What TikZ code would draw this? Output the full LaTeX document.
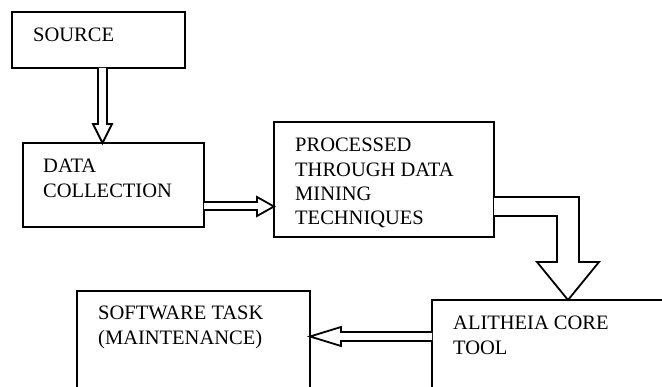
\documentclass[tikz,border=0pt]{standalone}
\usepackage{fontspec}
\setmainfont{Liberation Serif}
\usetikzlibrary{calc}
\tikzset{
  box/.style={draw, line width=1.8pt, rectangle, inner sep=0pt, outer sep=0pt, anchor=north west},
  lbl/.style={anchor=base west, inner sep=0pt, font=\fontsize{20.5}{24.3}\selectfont},
  arr/.style={draw, line width=1.8pt, line join=miter, fill=white}
}
\newcommand\lines[1]{\begin{tabular}[t]{@{}l@{}}#1\end{tabular}}
\begin{document}
\begin{tikzpicture}[x=1pt,y=1pt]
\useasboundingbox (0,0) rectangle (662,-387);
\clip (0,0) rectangle (662,-387);
\node[box, minimum width=173pt, minimum height=56pt] (src) at (12,-12) {};
\node[box, minimum width=181pt, minimum height=84pt] (dc) at (23,-143) {};
\node[box, minimum width=220pt, minimum height=115pt] (proc) at (274,-122) {};
\node[box, minimum width=300pt, minimum height=150pt] (ali) at (432,-300) {};
\node[box, minimum width=233pt, minimum height=150pt] (sw) at (77,-291) {};

\node[lbl] (tsrc) at (33,-42) {SOURCE};
\node[lbl] (tdc) at (43,-173) {\lines{DATA\\COLLECTION}};
\node[lbl] (tproc) at (295,-152) {\lines{PROCESSED\\THROUGH DATA\\MINING\\TECHNIQUES}};
\node[lbl] (tali) at (453,-330) {\lines{ALITHEIA CORE\\TOOL}};
\node[lbl] (tsw) at (98,-320) {\lines{SOFTWARE TASK\\(MAINTENANCE)}};

\draw[arr] let \p1=(src.south), \p2=(dc.north) in
  (98,\y1) -- (98,\y2+19pt) -- (93,\y2+19pt) -- (102.5,\y2) -- (112,\y2+19pt) -- (107,\y2+19pt) -- (107,\y1);
\draw[arr] let \p1=(dc.east), \p2=(proc.west) in
  (\x1,-202) -- (\x2-17pt,-202) -- (\x2-17pt,-197) -- (\x2,-206.5) -- (\x2-17pt,-216) -- (\x2-17pt,-210) -- (\x1,-210);
\draw[arr] let \p1=(proc.east), \p2=(ali.north) in
  (\x1,-197) -- (579,-197) -- (579,\y2+38pt) -- (599,\y2+38pt) -- (568,\y2) -- (537,\y2+38pt) -- (557,\y2+38pt) -- (557,-216) -- (\x1,-216);
\draw[arr] let \p1=(ali.west), \p2=(sw.east) in
  (\x1,-332) -- (\x2+31pt,-332) -- (\x2+31pt,-327) -- (\x2,-336.5) -- (\x2+31pt,-346) -- (\x2+31pt,-341) -- (\x1,-341);
\end{tikzpicture}
\end{document}
